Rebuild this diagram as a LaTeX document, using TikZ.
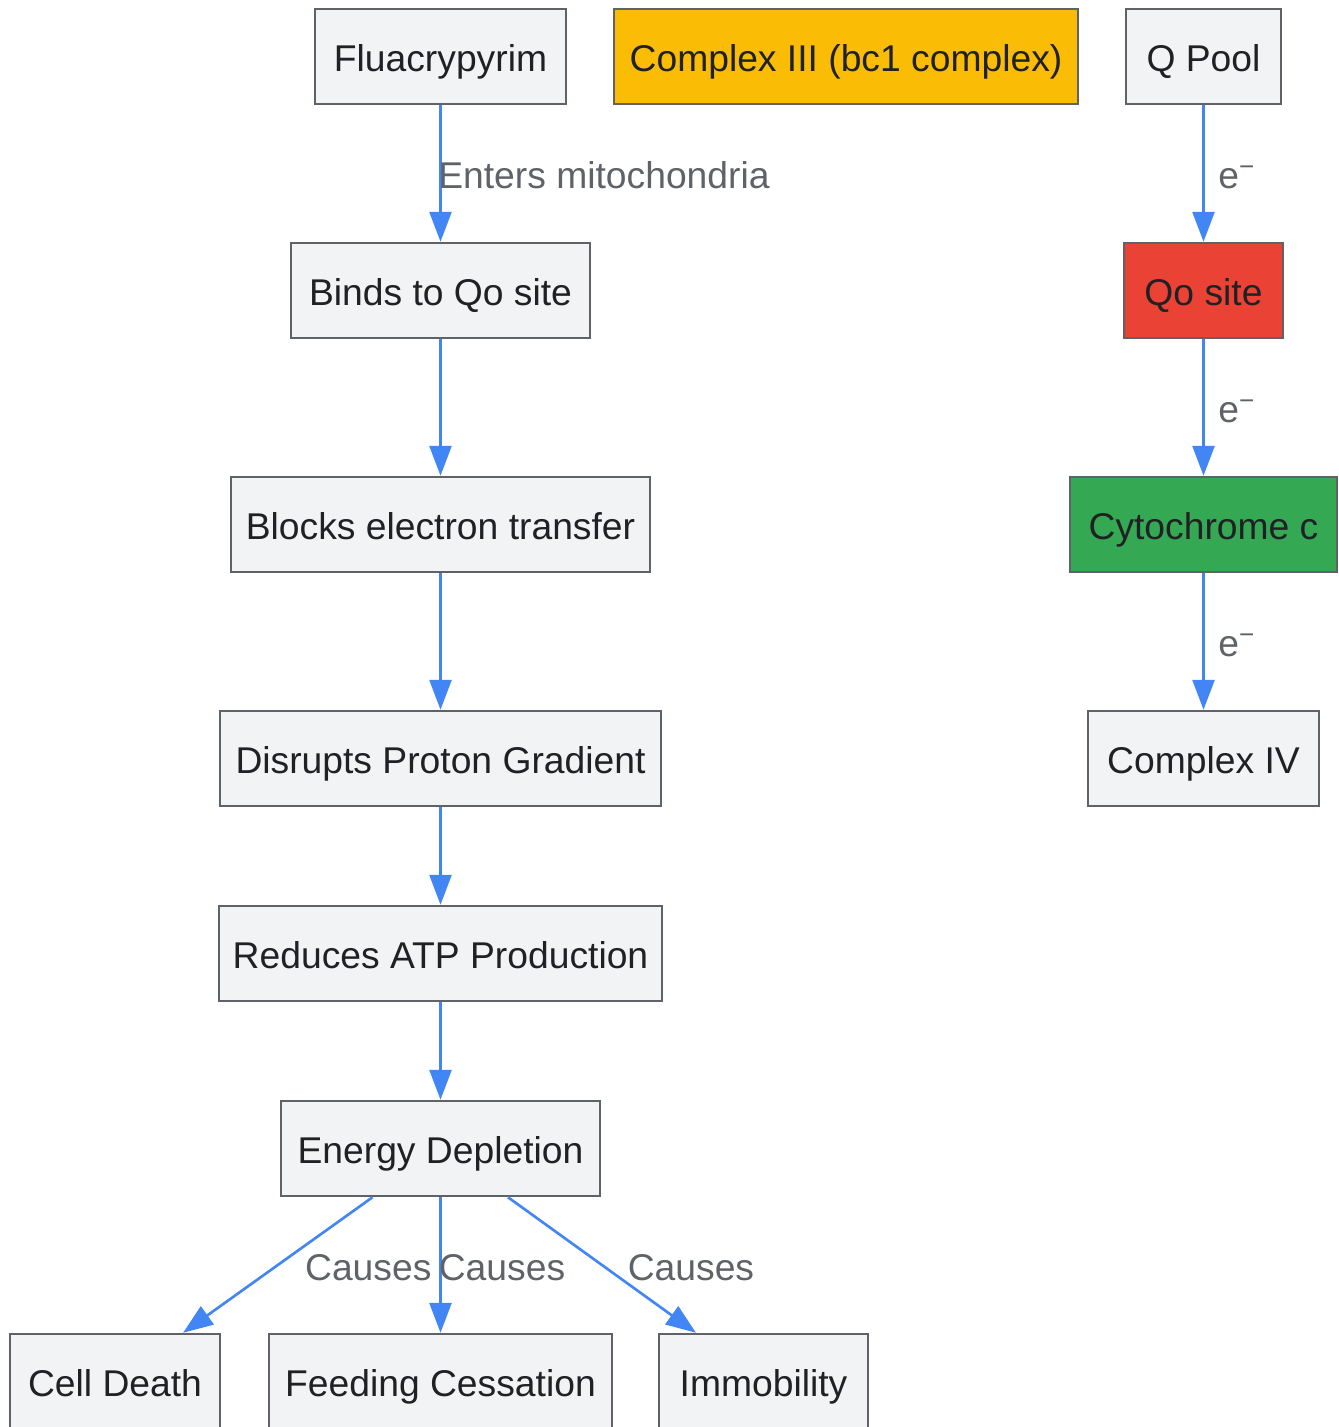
\documentclass[tikz,border=0pt]{standalone}
\usepackage{fontspec}
\setmainfont{Liberation Sans}
\usetikzlibrary{positioning}
\usetikzlibrary{arrows.meta}
\usepackage{xcolor}
\definecolor{edgeblue}{HTML}{4285F4}
\definecolor{boxfill}{HTML}{F1F3F4}
\definecolor{boxline}{HTML}{5F6368}
\definecolor{boxtext}{HTML}{202124}
\definecolor{lbltext}{HTML}{5F6368}
\definecolor{cplxthree}{HTML}{FBBC05}
\definecolor{qored}{HTML}{EA4335}
\definecolor{cytgreen}{HTML}{34A853}

\begin{document}
\begin{tikzpicture}[node distance=1.2cm,
    box/.style={draw=boxline, line width=1.4pt, rectangle, fill=boxfill, text=boxtext,
        minimum height=1.9cm, inner sep=0pt, text height=0.72cm, text depth=0.11cm,
        font=\fontsize{21.2}{25}\selectfont},
    lbl/.style={text=lbltext, inner sep=0pt, text height=0.72cm, text depth=0.11cm,
        font=\fontsize{21.2}{25}\selectfont},
    flow/.style={-{Triangle[length=0.6cm,width=0.44cm]}, draw=edgeblue, line width=1.5pt}]
            \useasboundingbox (0,0) rectangle (26.78,-28.54);
            % Mode of action chain
            \node[box, minimum width=5.02cm] (fluacrypyrim) at (8.81,-1.13) {Fluacrypyrim};
            \node[box, minimum width=9.28cm, fill=cplxthree] (complexiii) at (16.92,-1.13) {Complex III (bc1 complex)};
            \node[box, minimum width=3.1cm] (qpool) at (24.07,-1.13) {Q Pool};
            \node[box, minimum width=5.98cm] (binds) at (8.81,-5.81) {Binds to Qo site};
            \node[box, minimum width=3.18cm, fill=qored] (qosite) at (24.07,-5.81) {Qo site};
            \node[box, minimum width=8.38cm] (blocks) at (8.81,-10.49) {Blocks electron transfer};
            \node[box, minimum width=5.34cm, fill=cytgreen] (cytc) at (24.07,-10.49) {Cytochrome c};
            \node[box, minimum width=8.82cm] (disrupts) at (8.81,-15.17) {Disrupts Proton Gradient};
            \node[box, minimum width=4.62cm] (complexiv) at (24.07,-15.17) {Complex IV};
            \node[box, minimum width=8.86cm] (reduces) at (8.81,-19.07) {Reduces ATP Production};
            \node[box, minimum width=6.38cm] (energy) at (8.81,-22.97) {Energy Depletion};
            \node[box, minimum width=4.2cm] (celldeath) at (2.3,-27.63) {Cell Death};
            \node[box, minimum width=6.86cm] (feeding) at (8.81,-27.63) {Feeding Cessation};
            \node[box, minimum width=4.18cm] (immobility) at (15.27,-27.63) {Immobility};
            
            \draw[flow] (fluacrypyrim) -- node[lbl, anchor=west, xshift=-0.07cm] {Enters mitochondria} (binds);
            \draw[flow] (binds) -- (blocks);
            \draw[flow] (blocks) -- (disrupts);
            \draw[flow] (disrupts) -- (reduces);
            \draw[flow] (reduces) -- (energy);
            \draw[flow] (energy) -- node[lbl, xshift=1.81cm] {Causes} (celldeath);
            \draw[flow] (energy) -- node[lbl, xshift=1.23cm] {Causes} (feeding);
            \draw[flow] (energy) -- node[lbl, xshift=1.78cm] {Causes} (immobility);
            % Electron transport
            \draw[flow] (qpool) -- node[lbl, anchor=west, xshift=0.27cm] {e\textsuperscript{−}} (qosite);
            \draw[flow] (qosite) -- node[lbl, anchor=west, xshift=0.27cm] {e\textsuperscript{−}} (cytc);
            \draw[flow] (cytc) -- node[lbl, anchor=west, xshift=0.27cm] {e\textsuperscript{−}} (complexiv);
        \end{tikzpicture}
\end{document}
